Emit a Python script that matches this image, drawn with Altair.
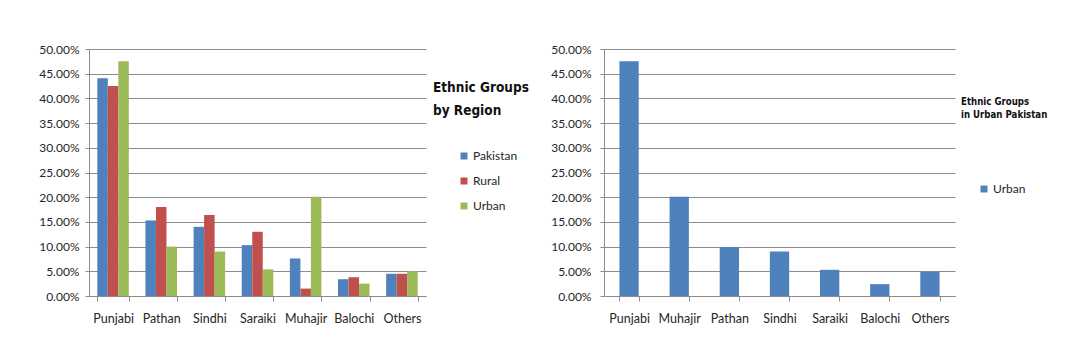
import altair as alt
import pandas as pd

# ---- data ----
cats = ["Punjabi", "Pathan", "Sindhi", "Saraiki", "Muhajir", "Balochi", "Others"]
series = ["Pakistan", "Rural", "Urban"]
pakistan = [44.1, 15.3, 14.0, 10.3, 7.6, 3.4, 4.5]
rural = [42.5, 18.0, 16.4, 13.0, 1.5, 3.8, 4.5]
urban = [47.5, 10.0, 9.0, 5.4, 20.1, 2.5, 5.0]

urban_cats = ["Punjabi", "Muhajir", "Pathan", "Sindhi", "Saraiki", "Balochi", "Others"]
urban_sorted = [47.5, 20.1, 9.9, 9.0, 5.3, 2.4, 4.9]

colors = ["#4F81BD", "#C0504D", "#9BBB59"]
y_ticks = [0, 0.05, 0.10, 0.15, 0.20, 0.25, 0.30, 0.35, 0.40, 0.45, 0.50]

rows = []
for i, c in enumerate(cats):
    for s, vals in zip(series, (pakistan, rural, urban)):
        rows.append({"group": c, "series": s, "value": vals[i] / 100})
df1 = pd.DataFrame(rows)
df2 = pd.DataFrame({"group": urban_cats, "series": "Urban",
                    "value": [v / 100 for v in urban_sorted]})

FONT = "Lato"
TITLE_FONT = "DejaVu Sans Condensed, Roboto, sans-serif"
GRID = "#8c8c8c"
LABEL = "#262626"


def y_axis(pad):
    return alt.Axis(values=y_ticks, format=".2%", title=None, grid=True,
                    gridColor=GRID, gridWidth=1, domainColor=GRID, tickColor=GRID,
                    tickSize=4, labelPadding=pad, labelFont=FONT, labelFontSize=12,
                    labelColor=LABEL)


def x_axis():
    return alt.Axis(title=None, labelAngle=0, tickBand="extent", domainColor=GRID,
                    tickColor=GRID, tickSize=5, labelPadding=11, labelFont=FONT,
                    labelFontSize=12.5, labelColor=LABEL, grid=False)


def legend(lx, ly):
    return alt.Legend(title=None, orient="none", legendX=lx, legendY=ly,
                      symbolType="square", symbolSize=49, symbolStrokeWidth=0,
                      labelFont=FONT, labelFontSize=12, labelColor=LABEL,
                      rowPadding=13, padding=0, labelOffset=3)


one = pd.DataFrame({"t": [0]})

left_bars = alt.Chart(df1).mark_bar().encode(
    x=alt.X("group:N", sort=cats,
            scale=alt.Scale(paddingInner=0.345, paddingOuter=0.1725), axis=x_axis()),
    xOffset=alt.XOffset("series:N", sort=series,
                        scale=alt.Scale(paddingInner=0, paddingOuter=0)),
    y=alt.Y("value:Q", scale=alt.Scale(domain=[0, 0.5]), axis=y_axis(6)),
    color=alt.Color("series:N", sort=series,
                    scale=alt.Scale(domain=series, range=colors),
                    legend=legend(369, 101)),
)
left_title = alt.Chart(one).mark_text(
    text=["Ethnic Groups", "by Region"], align="left", baseline="alphabetic",
    font=TITLE_FONT, fontWeight="bold", fontSize=13.5, lineHeight=23, color="#111111",
).encode(x=alt.value(344), y=alt.value(43))
left = alt.layer(left_bars, left_title).properties(width=337, height=247)

right_bars = alt.Chart(df2).mark_bar().encode(
    x=alt.X("group:N", sort=urban_cats,
            scale=alt.Scale(paddingInner=0.615, paddingOuter=0.3075), axis=x_axis()),
    y=alt.Y("value:Q", scale=alt.Scale(domain=[0, 0.5]), axis=y_axis(9)),
    color=alt.Color("series:N", scale=alt.Scale(domain=["Urban"], range=[colors[0]]),
                    legend=legend(374, 134)),
)
right_title = alt.Chart(one).mark_text(
    text=["Ethnic Groups", "in Urban Pakistan"], align="left", baseline="alphabetic",
    font=TITLE_FONT, fontWeight="bold", fontSize=9.6, lineHeight=13, color="#111111",
).encode(x=alt.value(357), y=alt.value(56))
right = alt.layer(right_bars, right_title).properties(width=351, height=247)

chart = alt.hconcat(left, right, spacing=178, bounds="flush").resolve_scale(
    color="independent"
).configure_view(stroke=None).properties(
    padding={"left": 38, "top": 43, "right": 5, "bottom": 5},
    background="white",
)

chart.save("out.html", embed_options={"renderer": "svg", "actions": False})
